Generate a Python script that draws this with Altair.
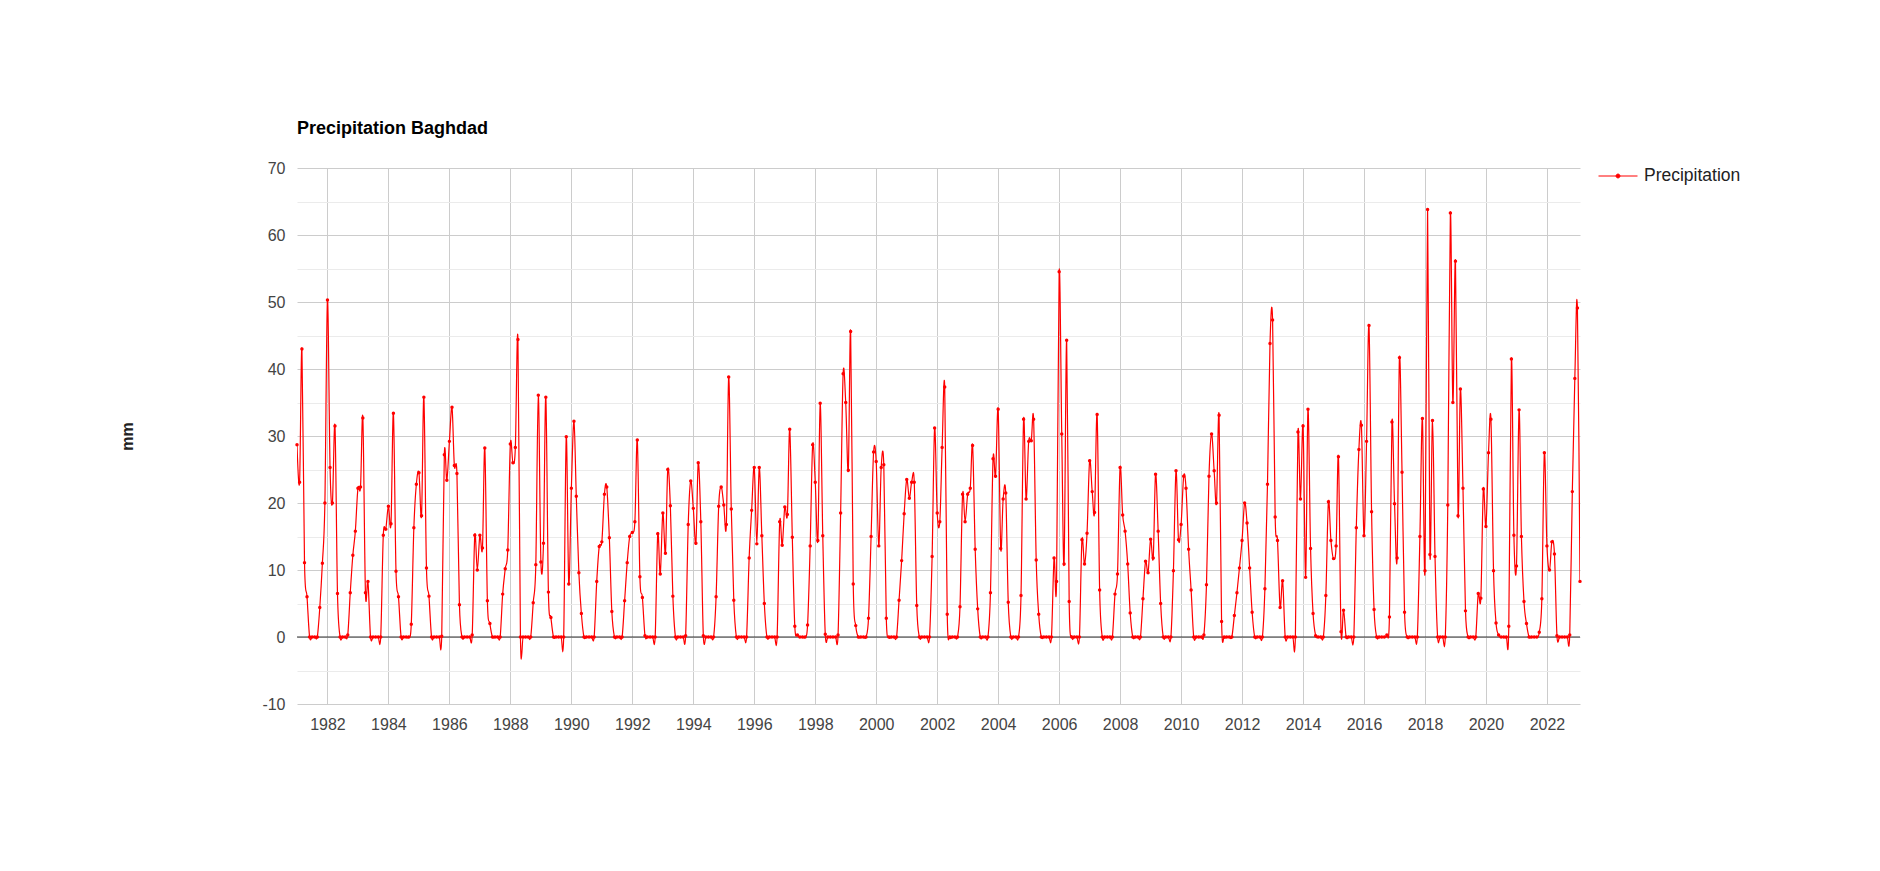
import altair as alt
import pandas as pd

# Monthly precipitation (mm), Baghdad, Jan 1981 - Feb 2023
r1981 = [28.7, 23.1, 43.0, 11.1, 6.0, 0, 0, 0, 0, 4.4, 11.0, 20.0]
r1982 = [50.3, 25.3, 20.0, 31.5, 6.5, 0, 0, 0, 0.3, 6.6, 12.2, 15.8]
r1983 = [22.2, 22.4, 32.7, 6.6, 8.3, 0, 0, 0, 0, 0, 15.2, 16.1]
r1984 = [19.5, 16.9, 33.4, 9.8, 6.0, 0, 0, 0, 0, 1.9, 16.3, 22.8]
r1985 = [24.5, 18.1, 35.8, 10.3, 6.1, 0, 0, 0, 0, 0.1, 27.2, 23.4]
r1986 = [29.2, 34.3, 25.6, 24.4, 4.8, 0, 0, 0, 0, 0.3, 15.2, 10.0]
r1987 = [15.2, 13.3, 28.2, 5.4, 2.0, 0, 0, 0, 0, 6.4, 10.2, 13.0]
r1988 = [28.8, 26.0, 28.3, 44.4, 0, 0, 0, 0, 0, 5.1, 10.8, 36.1]
r1989 = [11.2, 14.0, 35.8, 6.7, 2.9, 0, 0, 0, 0, 0, 29.9, 7.9]
r1990 = [22.2, 32.2, 21.0, 9.6, 3.5, 0, 0, 0, 0, 0, 8.3, 13.5]
r1991 = [14.2, 21.3, 22.4, 14.8, 3.8, 0, 0, 0, 0, 5.4, 11.1, 15.0]
r1992 = [15.6, 17.2, 29.4, 9.0, 5.9, 0.2, 0, 0, 0, 0, 15.4, 9.4]
r1993 = [18.5, 12.5, 25.0, 19.6, 6.1, 0, 0, 0, 0, 0.2, 16.8, 23.3]
r1994 = [19.2, 14.0, 26.0, 17.2, 0.2, 0, 0, 0, 0, 6.0, 19.5, 22.4]
r1995 = [19.7, 16.8, 38.8, 19.1, 5.5, 0, 0, 0, 0, 0, 11.8, 18.9]
r1996 = [25.3, 13.9, 25.3, 15.1, 5.0, 0, 0, 0, 0, 0, 17.2, 13.7]
r1997 = [19.4, 18.3, 31.0, 14.9, 1.6, 0.3, 0, 0, 0, 1.8, 13.6, 28.7]
r1998 = [23.1, 14.4, 34.9, 15.1, 0.4, 0, 0, 0, 0, 0.3, 18.5, 39.3]
r1999 = [35.0, 24.9, 45.6, 7.9, 1.7, 0, 0, 0, 0, 2.8, 15.0, 27.6]
r2000 = [26.2, 13.6, 25.3, 25.7, 2.8, 0, 0, 0, 0, 5.5, 11.4, 18.4]
r2001 = [23.5, 20.7, 23.1, 23.1, 4.7, 0, 0, 0, 0, 0, 12.0, 31.2]
r2002 = [18.5, 17.2, 28.3, 37.3, 3.4, 0, 0, 0, 0, 4.5, 21.3, 17.2]
r2003 = [21.3, 22.2, 28.6, 13.1, 4.2, 0, 0, 0, 0, 6.6, 26.6, 24.0]
r2004 = [34.0, 13.2, 20.6, 21.5, 5.2, 0, 0, 0, 0, 6.2, 32.5, 20.6]
r2005 = [29.2, 29.3, 32.5, 11.5, 3.4, 0, 0, 0, 0, 0, 11.8, 8.3]
r2006 = [54.5, 30.3, 10.9, 44.3, 5.3, 0, 0, 0, 0, 14.5, 10.9, 15.5]
r2007 = [26.3, 21.7, 18.6, 33.2, 7.0, 0, 0, 0, 0, 0, 6.4, 9.4]
r2008 = [25.3, 18.2, 15.8, 10.9, 3.6, 0, 0, 0, 0, 5.7, 11.3, 9.6]
r2009 = [14.6, 11.8, 24.3, 15.8, 5.0, 0, 0, 0, 0, 9.9, 24.8, 14.5]
r2010 = [16.8, 24.0, 22.2, 13.1, 7.0, 0, 0, 0, 0, 0.3, 7.8, 24.0]
r2011 = [30.3, 24.8, 20.0, 33.1, 2.3, 0, 0, 0, 0, 3.2, 6.6, 10.3]
r2012 = [14.4, 20.0, 17.0, 10.3, 3.7, 0, 0, 0, 0, 7.2, 22.8, 43.8]
r2013 = [47.3, 17.9, 14.4, 4.4, 8.4, 0, 0, 0, 0, 0, 30.6, 20.6]
r2014 = [31.5, 8.9, 34.0, 13.2, 3.5, 0.2, 0, 0, 0, 6.2, 20.2, 14.4]
r2015 = [11.7, 13.6, 26.9, 0.8, 4.0, 0, 0, 0, 0, 16.3, 28.0, 31.6]
r2016 = [15.1, 29.2, 46.5, 18.7, 4.1, 0, 0, 0, 0, 0.3, 3.0, 32.1]
r2017 = [19.9, 11.8, 41.7, 24.6, 3.7, 0, 0, 0, 0, 0, 15.0, 32.6]
r2018 = [9.9, 63.8, 12.3, 32.3, 12.0, 0, 0, 0, 0, 19.7, 63.3, 35.0]
r2019 = [56.1, 18.1, 37.0, 22.2, 3.9, 0, 0, 0, 0, 6.5, 5.8, 22.1]
r2020 = [16.5, 27.5, 32.5, 9.9, 2.1, 0.3, 0, 0, 0, 1.6, 41.5, 15.2]
r2021 = [10.6, 33.9, 15.0, 5.3, 2.0, 0, 0, 0, 0, 0.7, 5.7, 27.5]
r2022 = [13.6, 10.0, 14.2, 12.4, 0.2, 0, 0, 0, 0, 0.3, 21.7, 38.6]
r2023 = [49.1, 8.3]

years = list(range(1981, 2024))
monthly = [r1981, r1982, r1983, r1984, r1985, r1986, r1987, r1988, r1989,
           r1990, r1991, r1992, r1993, r1994, r1995, r1996, r1997, r1998,
           r1999, r2000, r2001, r2002, r2003, r2004, r2005, r2006, r2007,
           r2008, r2009, r2010, r2011, r2012, r2013, r2014, r2015, r2016,
           r2017, r2018, r2019, r2020, r2021, r2022, r2023]

x_tick_years = list(range(1982, 2023, 2))
y_ticks = list(range(-10, 71, 5))
series_name = "Precipitation"

dates, vals = [], []
for yr, arr in zip(years, monthly):
    for i, v in enumerate(arr):
        dates.append(f"{yr}-{i + 1:02d}-01T00:00:00")
        vals.append(v)
df = pd.DataFrame({"date": dates, "value": vals, "series": series_name})

FONT = "Liberation Sans"
RED = "#ff0000"

x_enc = alt.X(
    "date:T",
    title=None,
    scale=alt.Scale(
        domain=[alt.DateTime(year=1981, month=1, date=1),
                alt.DateTime(year=2023, month=2, date=1)],
        nice=False,
    ),
    axis=alt.Axis(
        values=[alt.DateTime(year=y, month=1, date=1) for y in x_tick_years],
        format="%Y",
        grid=True,
        gridColor="#cccccc",
        ticks=False,
        domain=False,
        labelFontSize=16,
        labelFont=FONT,
        labelColor="#444444",
        labelPadding=12,
    ),
)

y_axis = alt.Axis(
    values=y_ticks,
    labelExpr="datum.value % 10 === 0 ? ('' + datum.value) : ''",
    gridColor=alt.condition("datum.value % 10 === 0", alt.value("#cccccc"), alt.value("#ebebeb")),
    ticks=False,
    domain=False,
    labelFontSize=16,
    labelFont=FONT,
    labelColor="#444444",
    labelPadding=12,
    title="mm",
    titleFontSize=16,
    titleFont=FONT,
    titleFontWeight="bold",
    titleColor="#222222",
    titleX=-162,
    titleY=268,
)
y_scale = alt.Scale(domain=[-10, 70], nice=False, zero=False)

zero_df = pd.DataFrame({"value": [0]})
zero_rule = alt.Chart(zero_df).mark_rule(color="#333333", strokeWidth=1).encode(
    y=alt.Y("value:Q", scale=y_scale, axis=y_axis)
)

line = alt.Chart(df).mark_line(interpolate="cardinal", strokeWidth=1.2, clip=True).encode(
    x=x_enc,
    y=alt.Y("value:Q", scale=y_scale, axis=y_axis),
    color=alt.Color(
        "series:N",
        scale=alt.Scale(domain=[series_name], range=[RED]),
        legend=alt.Legend(
            title=None,
            orient="none",
            legendX=1301,
            legendY=-12,
            labelFontSize=17.5,
            labelFont=FONT,
            labelColor="#222222",
            labelOffset=6,
            symbolType="M-1,0L1,0M-0.1,0A0.1,0.1,0,1,0,0.1,0A0.1,0.1,0,1,0,-0.1,0",
            symbolSize=1521,
            symbolStrokeWidth=1,
            symbolStrokeColor=RED,
            symbolFillColor=RED,
        ),
    ),
)

points = alt.Chart(df).mark_circle(size=12, color=RED, opacity=1).encode(
    x=x_enc,
    y=alt.Y("value:Q", scale=y_scale, axis=y_axis),
)

chart = (
    alt.layer(zero_rule, line, points)
    .properties(
        width=1283,
        height=536,
        title=alt.Title(
            "Precipitation Baghdad",
            anchor="start",
            frame="group",
            fontSize=18,
            font=FONT,
            fontWeight="bold",
            color="#000000",
            offset=18,
        ),
        padding={"left": 289, "top": 160, "right": 260, "bottom": 150},
        autosize=alt.AutoSizeParams(type="none"),
    )
    .configure_view(stroke=None)
)

chart.save("out.html", embed_options={"renderer": "svg", "actions": False})
